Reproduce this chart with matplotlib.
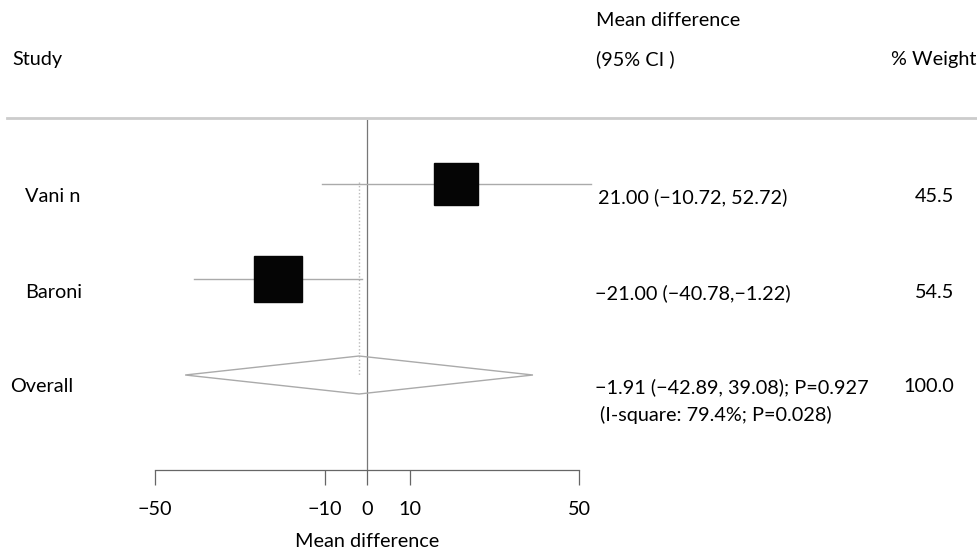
import matplotlib
matplotlib.use("Agg")
import matplotlib.pyplot as plt
from matplotlib.patches import Rectangle, Polygon
from matplotlib.lines import Line2D
import numpy as np

# Study-level data
studies = ["Vani n", "Baroni"]
est = [21.00, -21.00]
lo = [-10.72, -40.78]
hi = [52.72, -1.22]
weights = [45.5, 54.5]
ci_text = ["21.00 (\u221210.72, 52.72)", "\u221221.00 (\u221240.78,\u22121.22)"]
weight_text = ["45.5", "54.5"]

# Pooled estimate
overall_est = -1.91
overall_lo = -42.89
overall_hi = 39.08
overall_text = "\u22121.91 (\u221242.89, 39.08); P=0.927"
overall_het = "(I-square: 79.4%; P=0.028)"
overall_weight = "100.0"

xticks = [-50, -10, 0, 10, 50]
xticklabels = ["\u221250", "\u221210", "0", "10", "50"]

W, H = 978, 555
plt.rcParams["font.family"] = ["Lato", "DejaVu Sans"]
FS = 14.3
TXT = "#000000"

fig = plt.figure(figsize=(W / 100, H / 100), dpi=100)
# axes spans -50..50 horizontally; y in pixel rows (top = 0)
ax = fig.add_axes([155 / W, 0, (579.3 - 155) / W, 1])
ax.set_xlim(-50, 50)
ax.set_ylim(H, 0)
for s in ("top", "left", "right"):
    ax.spines[s].set_visible(False)
ax.spines["bottom"].set_position(("data", 470))
ax.spines["bottom"].set_color("#666666")
ax.spines["bottom"].set_linewidth(0.9)
ax.set_yticks([])
ax.set_xticks(xticks)
ax.set_xticklabels(xticklabels, fontsize=FS, color=TXT)
ax.tick_params(axis="x", direction="out", length=11, width=0.9, color="#666666", pad=11)
ax.set_xlabel("Mean difference", fontsize=FS, color=TXT, labelpad=11)
ax.patch.set_alpha(0)

px_per_unit = (579.3 - 155) / 100.0
row_y = [184, 279]
overall_y = 375

# line of no effect
ax.plot([0, 0], [120, 470], color="#777777", lw=0.9, zorder=1)
# pooled estimate dotted line
ax.plot([overall_est, overall_est], [182, overall_y], color="#bbbbbb", lw=1.0,
        ls=(0, (1, 1.5)), zorder=1)

for e, l, h, w, y in zip(est, lo, hi, weights, row_y):
    ax.plot([l, h], [y, y], color="#aaaaaa", lw=1.0, zorder=2, clip_on=False)
    side_w = 6.5 * np.sqrt(w) / px_per_unit
    side_h = 6.1 * np.sqrt(w)
    ax.add_patch(Rectangle((e - side_w / 2, y - side_h / 2), side_w, side_h,
                           facecolor="#050505", edgecolor="#050505", zorder=3,
                           clip_on=False))

dia = Polygon([[overall_lo, overall_y], [overall_est, overall_y - 19],
               [overall_hi, overall_y], [overall_est, overall_y + 19]],
              closed=True, facecolor="none", edgecolor="#aaaaaa", lw=1.0, zorder=2,
              clip_on=False)
ax.add_patch(dia)

# header separator across full width
fig.add_artist(Line2D([7 / W, 1], [1 - 118 / H, 1 - 118 / H], color="#cccccc", lw=2))


def ftext(x, y, s, ha="left"):
    fig.text(x / W, 1 - y / H, s, ha=ha, va="center", fontsize=FS, color=TXT)


ftext(12, 59, "Study")
ftext(596, 20, "Mean difference")
ftext(596, 59, "(95% CI )")
ftext(976, 59, "% Weight", ha="right")

for name, y, ct, wt in zip(studies, [197, 293], ci_text, weight_text):
    ftext(25, y, name)
    ftext(598 if ct[0] != "\u2212" else 595, y, ct)
    ftext(954, y, wt, ha="right")

ftext(10, 386, "Overall")
ftext(595, 387, overall_text)
ftext(600, 415, overall_het)
ftext(954, 387, overall_weight, ha="right")

fig.savefig("out.png", dpi=100)
